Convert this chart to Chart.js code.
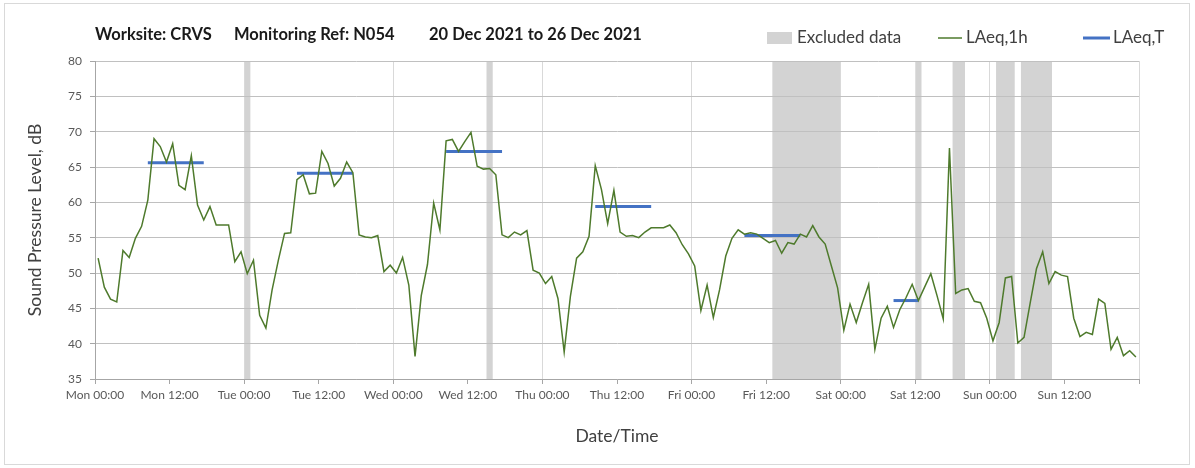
<!DOCTYPE html>
<html>
<head>
<meta charset="utf-8">
<script src="https://cdn.jsdelivr.net/npm/chart.js@4.4.0/dist/chart.umd.min.js"></script>
<style>
  html, body { margin: 0; padding: 0; background: #fff; }
  #wrap { position: relative; width: 1195px; height: 468px; }
</style>
</head>
<body>
<div id="wrap"><canvas id="myChart" width="1195" height="468"></canvas></div>
<script>
// hourly LAeq,1h, Mon 00:00 .. Sun 23:00 (one value per hour)
const laeq1h = [
  52.1, 48.0, 46.3, 45.9, 53.2, 52.2, 54.9, 56.6, 60.3, 69.0, 67.9, 65.7,
  68.3, 62.4, 61.8, 66.6, 59.6, 57.5, 59.4, 56.8, 56.8, 56.8, 51.6, 53.0,
  49.9, 51.8, 44.0, 42.2, 47.6, 51.8, 55.6, 55.7, 63.2, 63.9, 61.2, 61.3,
  67.2, 65.5, 62.3, 63.4, 65.7, 64.2, 55.4, 55.1, 55.0, 55.3, 50.2, 51.1,
  50.0, 52.2, 48.3, 38.2, 46.8, 51.2, 59.9, 56.1, 68.7, 68.9, 67.2, 68.6,
  69.9, 65.1, 64.7, 64.8, 63.9, 55.4, 55.0, 55.8, 55.4, 56.0, 50.4, 50.0,
  48.5, 49.5, 46.4, 38.8, 46.7, 52.1, 53.0, 55.2, 65.2, 61.8, 57.0, 61.7,
  55.8, 55.2, 55.3, 55.0, 55.8, 56.4, 56.4, 56.4, 56.8, 55.7, 54.0, 52.7,
  51.0, 44.7, 48.3, 43.7, 47.6, 52.4, 54.9, 56.1, 55.5, 55.7, 55.5, 54.9,
  54.3, 54.6, 52.8, 54.3, 54.1, 55.5, 55.1, 56.7, 55.1, 54.1, 51.0, 47.9,
  41.9, 45.6, 43.0, 45.8, 48.4, 39.2, 43.6, 45.3, 42.3, 44.8, 46.5, 48.4,
  46.1, 48.0, 49.9, 46.8, 43.5, 67.7, 47.1, 47.6, 47.8, 46.0, 45.8, 43.6,
  40.4, 43.0, 49.3, 49.5, 40.1, 40.9, 45.8, 50.6, 53.0, 48.5, 50.2, 49.7,
  49.5, 43.6, 41.0, 41.6, 41.3, 46.3, 45.7, 39.2, 40.9, 38.3, 39.0, 38.1
];

// LAeq,T over the working period of each day (hours from Mon 00:00)
const ltStart = [8.5, 32.5, 56.5, 80.5, 104.5, 128.5];
const ltEnd   = [17.5, 41.5, 65.5, 89.5, 113.5, 132.5];
const ltValue = [65.6, 64.1, 67.2, 59.4, 55.3, 46.1];

// excluded periods (hours from Mon 00:00)
const exclStart = [24, 63, 109, 132, 138, 145, 149];
const exclEnd   = [25, 64, 120, 133, 140, 148, 154];

const tickLabels = [
  'Mon 00:00', 'Mon 12:00', 'Tue 00:00', 'Tue 12:00', 'Wed 00:00', 'Wed 12:00',
  'Thu 00:00', 'Thu 12:00', 'Fri 00:00', 'Fri 12:00', 'Sat 00:00', 'Sat 12:00',
  'Sun 00:00', 'Sun 12:00', ''
];

const FONT = 'Lato, "Open Sans", sans-serif';

const hourlyPoints = laeq1h.map((v, i) => ({ x: i + 0.5, y: v }));

const ltDatasets = ltValue.map((v, i) => ({
  label: 'LAeq,T',
  data: [{ x: ltStart[i], y: v }, { x: ltEnd[i], y: v }],
  borderColor: '#4472c4',
  borderWidth: 3,
  pointRadius: 0,
  borderCapStyle: 'butt'
}));

// grey bands behind the grid
const excludedBands = {
  id: 'excludedBands',
  beforeDraw(chart) {
    const { ctx, chartArea, scales } = chart;
    ctx.save();
    ctx.fillStyle = '#d3d3d3';
    exclStart.forEach((s, i) => {
      const x1 = scales.x.getPixelForValue(s);
      const x2 = scales.x.getPixelForValue(exclEnd[i]);
      ctx.fillRect(x1, chartArea.top, x2 - x1, chartArea.bottom - chartArea.top);
    });
    ctx.restore();
  }
};

// title, legend and outer frame
const header = {
  id: 'header',
  afterDraw(chart) {
    const ctx = chart.ctx;
    ctx.save();
    ctx.strokeStyle = '#d9d9d9';
    ctx.lineWidth = 1;
    ctx.strokeRect(4.5, 3.5, 1185, 461);

    ctx.textBaseline = 'middle';
    ctx.fillStyle = '#1a1a1a';
    ctx.font = 'bold 16.5px ' + FONT;
    ctx.fillText('Worksite: CRVS', 95, 35);
    ctx.fillText('Monitoring Ref: N054', 234, 35);
    ctx.fillText('20 Dec 2021 to 26 Dec 2021', 429, 35);

    ctx.font = '17px ' + FONT;
    ctx.fillStyle = '#d3d3d3';
    ctx.fillRect(767, 32, 25, 12);
    ctx.fillStyle = '#404040';
    ctx.fillText('Excluded data', 797, 38);

    ctx.strokeStyle = '#4e7a2c';
    ctx.lineWidth = 1.5;
    ctx.beginPath(); ctx.moveTo(938, 38); ctx.lineTo(962, 38); ctx.stroke();
    ctx.fillText('LAeq,1h', 966, 38);

    ctx.strokeStyle = '#4472c4';
    ctx.lineWidth = 3;
    ctx.beginPath(); ctx.moveTo(1083, 38); ctx.lineTo(1110, 38); ctx.stroke();
    ctx.fillText('LAeq,T', 1113, 38);
    ctx.restore();
  }
};

const ctx = document.getElementById('myChart').getContext('2d');
const chart = new Chart(ctx, {
  type: 'line',
  data: {
    datasets: [{
      label: 'LAeq,1h',
      data: hourlyPoints,
      borderColor: '#4e7a2c',
      borderWidth: 1.5,
      pointRadius: 0,
      tension: 0
    }].concat(ltDatasets)
  },
  options: {
    responsive: false,
    animation: false,
    devicePixelRatio: 1,
    layout: { padding: { top: 61, left: 0, right: 56, bottom: 0 } },
    plugins: {
      legend: { display: false },
      tooltip: { enabled: false }
    },
    scales: {
      x: {
        type: 'linear',
        min: 0,
        max: 168,
        afterFit: (s) => { s.height = 89; },
        afterBuildTicks: (s) => {
          s.ticks = tickLabels.map((t, i) => ({ value: i * 12 }));
        },
        ticks: {
          autoSkip: false,
          maxRotation: 0,
          padding: 4,
          color: '#595959',
          font: { family: FONT, size: 12 },
          callback: (v) => tickLabels[Math.round(v / 12)]
        },
        grid: {
          color: (c) => (c.tick && c.tick.value % 24 === 0) ? '#d9d9d9' : 'rgba(0,0,0,0)',
          tickColor: '#a6a6a6',
          tickLength: 5
        },
        border: { color: '#a6a6a6' },
        title: {
          display: true,
          text: 'Date/Time',
          color: '#404040',
          font: { family: FONT, size: 17.5 },
          padding: { top: 0, bottom: 21 }
        }
      },
      y: {
        min: 35,
        max: 80,
        afterFit: (s) => { s.width = 95; },
        ticks: {
          stepSize: 5,
          padding: 8,
          color: '#595959',
          font: { family: FONT, size: 12 }
        },
        grid: {
          color: '#c0c0c0',
          tickColor: '#a6a6a6',
          tickLength: 5
        },
        border: { color: '#a6a6a6' },
        title: {
          display: true,
          text: 'Sound Pressure Level, dB',
          color: '#404040',
          font: { family: FONT, size: 17.5 },
          padding: { top: 25, bottom: 0 }
        }
      }
    }
  },
  plugins: [excludedBands, header]
});
</script>
</body>
</html>
